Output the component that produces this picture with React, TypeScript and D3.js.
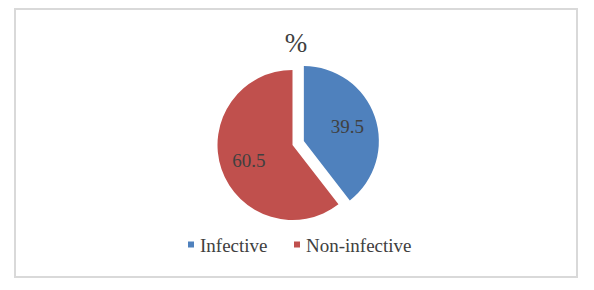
import React from "react";
import * as d3 from "d3";

const categories = ["Infective", "Non-infective"];
const values = [39.5, 60.5];
const colors = ["#4F81BD", "#C0504D"];
const title = "%";

const W = 594;
const H = 290;
const FONT = "'Liberation Serif', 'Times New Roman', serif";

export default function App() {
  const cx = 292.5;
  const cy = 145;
  const r = 75;
  const explode = 12;

  const pie = d3.pie<number>().sort(null).value((d) => d);
  const arcs = pie(values);
  const arcGen = d3.arc<d3.PieArcDatum<number>>().innerRadius(0).outerRadius(r);
  const labelArc = d3.arc<d3.PieArcDatum<number>>().innerRadius(46).outerRadius(46);

  const legendX = [188, 294];
  const legendY = 252;

  return (
    <svg
      width={W}
      height={H}
      style={{ position: "absolute", left: 0, top: 0, background: "#fff" }}
    >
      <rect x={15} y={9} width={562} height={268} fill="#fff" stroke="#d9d9d9" strokeWidth={2} />
      <text x={296} y={51.5} textAnchor="middle" fontFamily={FONT} fontSize={27} fill="#404040">
        {title}
      </text>
      {arcs.map((a, i) => {
        const mid = (a.startAngle + a.endAngle) / 2;
        const off = i === 0 ? explode : 0;
        const dx = Math.sin(mid) * off;
        const dy = -Math.cos(mid) * off;
        const [lx, ly] = labelArc.centroid(a);
        return (
          <g key={i} transform={`translate(${cx + dx},${cy + dy})`}>
            <path d={arcGen(a) || ""} fill={colors[i]} />
            <text
              x={lx}
              y={ly}
              dy="0.35em"
              textAnchor="middle"
              fontFamily={FONT}
              fontSize={19}
              fill="#404040"
            >
              {values[i].toFixed(1)}
            </text>
          </g>
        );
      })}
      {categories.map((c, i) => (
        <g key={c}>
          <rect x={legendX[i]} y={legendY - 10.5} width={6} height={6} fill={colors[i]} />
          <text x={legendX[i] + 12} y={legendY} fontFamily={FONT} fontSize={19} fill="#404040">
            {c}
          </text>
        </g>
      ))}
    </svg>
  );
}
